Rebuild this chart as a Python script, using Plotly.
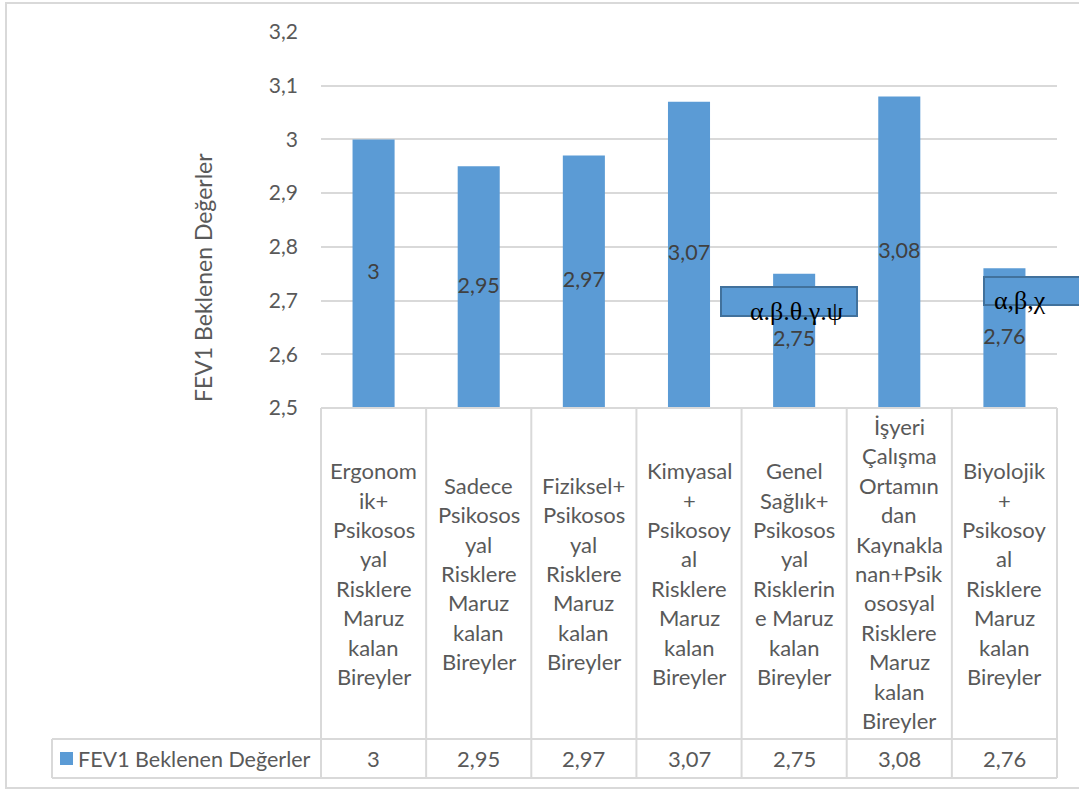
import plotly.graph_objects as go

# ---------------- data ----------------
CATEGORY_LINES = [
    ["Ergonom", "ik+", "Psikosos", "yal", "Risklere", "Maruz", "kalan", "Bireyler"],
    ["Sadece", "Psikosos", "yal", "Risklere", "Maruz", "kalan", "Bireyler"],
    ["Fiziksel+", "Psikosos", "yal", "Risklere", "Maruz", "kalan", "Bireyler"],
    ["Kimyasal", "+", "Psikosoy", "al", "Risklere", "Maruz", "kalan", "Bireyler"],
    ["Genel", "Sağlık+", "Psikosos", "yal", "Risklerin", "e Maruz", "kalan", "Bireyler"],
    ["İşyeri", "Çalışma", "Ortamın", "dan", "Kaynakla", "nan+Psik", "ososyal", "Risklere", "Maruz", "kalan", "Bireyler"],
    ["Biyolojik", "+", "Psikosoy", "al", "Risklere", "Maruz", "kalan", "Bireyler"],
]
VALUES = [3.00, 2.95, 2.97, 3.07, 2.75, 3.08, 2.76]
SERIES_NAME = "FEV1 Beklenen Değerler"
Y_TITLE = "FEV1 Beklenen Değerler"
Y_MIN, Y_MAX, Y_STEP = 2.5, 3.2, 0.1
NOTES = ["α.β.θ.γ.ψ", "α,β,χ"]

# ---------------- layout geometry (pixels) ----------------
W, H = 1079, 791
PL, PR, PT, PB = 321, 1057, 32, 408   # plot area
HDR_BOTTOM, TBL_BOTTOM, TBL_LEFT = 739, 778, 52
LINE_H = 29.4

def fx(px):
    return (px - PL) / (PR - PL)

def fy(py):
    return (PB - py) / (PB - PT)

def fmt(v):
    return f"{v:g}".replace(".", ",")

FONT = "Lato, 'Open Sans', sans-serif"
GRAY = "#595959"
BORDER = "#d9d9d9"
BLUE = "#5B9BD5"
CAT_SIZE = 22

n = len(VALUES)
xs = list(range(n))

fig = go.Figure()
fig.add_trace(go.Bar(
    x=xs, y=VALUES, name=SERIES_NAME, marker=dict(color=BLUE, line=dict(width=0)),
    width=0.4, showlegend=False, hoverinfo="y",
))
# data labels in the middle of the visible bar
fig.add_trace(go.Scatter(
    x=xs, y=[(v + Y_MIN) / 2 for v in VALUES], mode="text",
    text=[fmt(v) for v in VALUES], textposition="middle center",
    textfont=dict(family=FONT, size=21.5, color="#404040"),
    showlegend=False, hoverinfo="skip",
))

shapes = []
annotations = []

# outer chart border
shapes.append(dict(type="rect", xref="paper", yref="paper",
                   x0=fx(6), x1=fx(1095), y0=fy(3), y1=fy(788),
                   line=dict(color=BORDER, width=2), layer="below"))

# table lines
def hline(py, x0, x1):
    shapes.append(dict(type="line", xref="paper", yref="paper",
                       x0=fx(x0), x1=fx(x1), y0=fy(py), y1=fy(py),
                       line=dict(color=BORDER, width=2)))

def vline(px, y0, y1):
    shapes.append(dict(type="line", xref="paper", yref="paper",
                       x0=fx(px), x1=fx(px), y0=fy(y0), y1=fy(y1),
                       line=dict(color=BORDER, width=2)))

hline(PB, PL, PR)
hline(HDR_BOTTOM, TBL_LEFT, PR)
hline(TBL_BOTTOM, TBL_LEFT, PR)
vline(TBL_LEFT, HDR_BOTTOM, TBL_BOTTOM)
colw = (PR - PL) / n
for i in range(n + 1):
    vline(PL + i * colw, PB, TBL_BOTTOM)

# category labels (wrapped, centred in header cell)
hdr_center = (PB + HDR_BOTTOM) / 2
for i, lines in enumerate(CATEGORY_LINES):
    k = len(lines)
    for j, line in enumerate(lines):
        py = hdr_center + (j - (k - 1) / 2) * LINE_H
        annotations.append(dict(x=i, xref="x", y=fy(py), yref="paper",
                                text=line, showarrow=False,
                                xanchor="center", yanchor="middle",
                                font=dict(family=FONT, size=CAT_SIZE, color=GRAY)))

# value row
row_center = (HDR_BOTTOM + TBL_BOTTOM) / 2
for i, v in enumerate(VALUES):
    annotations.append(dict(x=i, xref="x", y=fy(row_center), yref="paper",
                            text=fmt(v), showarrow=False,
                            xanchor="center", yanchor="middle",
                            font=dict(family=FONT, size=CAT_SIZE, color=GRAY)))

# legend key in table
shapes.append(dict(type="rect", xref="paper", yref="paper",
                   x0=fx(60), x1=fx(73), y0=fy(752), y1=fy(765),
                   fillcolor=BLUE, line=dict(width=0)))
annotations.append(dict(x=fx(76), xref="paper", y=fy(row_center), yref="paper",
                        text=SERIES_NAME, showarrow=False,
                        xanchor="left", yanchor="middle",
                        font=dict(family=FONT, size=21.5, color=GRAY)))

# y-axis title
annotations.append(dict(x=fx(203), xref="paper", y=fy(278), yref="paper",
                        text=Y_TITLE, textangle=-90, showarrow=False,
                        xanchor="center", yanchor="middle",
                        font=dict(family=FONT, size=23, color=GRAY)))

# note boxes
boxes = [((721, 857, 287, 316), NOTES[0], (796, 311)),
         ((984, 1085, 277, 305), NOTES[1], (1020, 300))]
for (x0, x1, y0, y1), txt, (tx, ty) in boxes:
    shapes.append(dict(type="rect", xref="paper", yref="paper",
                       x0=fx(x0), x1=fx(x1), y0=fy(y0), y1=fy(y1),
                       fillcolor=BLUE, line=dict(color="#41719C", width=2)))
    annotations.append(dict(x=fx(tx), xref="paper", y=fy(ty), yref="paper",
                            text=txt, showarrow=False,
                            xanchor="center", yanchor="middle",
                            font=dict(family="Liberation Serif, serif", size=26, color="#000000")))

fig.update_layout(
    width=W, height=H,
    margin=dict(l=PL, r=W - PR, t=PT, b=H - PB, pad=0),
    paper_bgcolor="white", plot_bgcolor="white",
    separators=", ",
    bargap=0.6,
    shapes=shapes, annotations=annotations,
    font=dict(family=FONT, color=GRAY),
    xaxis=dict(range=[-0.5, n - 0.5], showticklabels=False, showgrid=False,
               zeroline=False, showline=False, fixedrange=True),
    yaxis=dict(range=[Y_MIN, Y_MAX], dtick=Y_STEP, tick0=Y_MIN,
               showgrid=True, gridcolor=BORDER, gridwidth=1.5,
               zeroline=False, showline=False, ticks="",
               ticklabelstandoff=22,
               tickfont=dict(family=FONT, size=21, color=GRAY)),
)

fig.write_html("out.html")
